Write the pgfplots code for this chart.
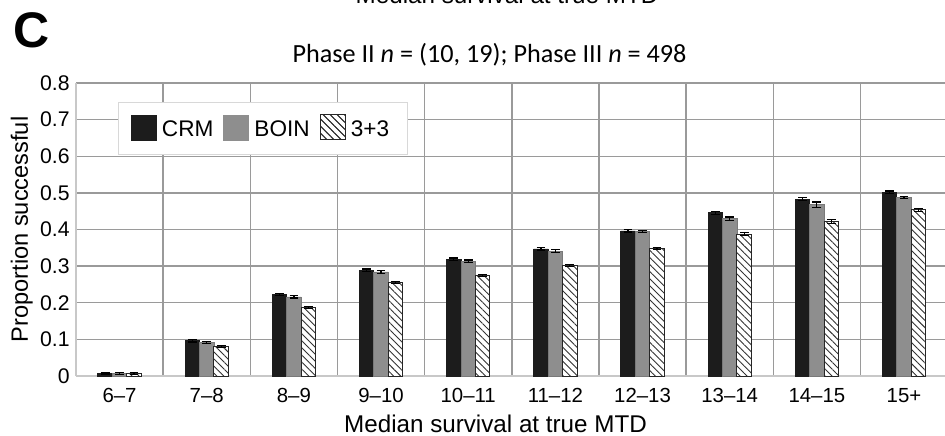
\documentclass[border=0pt]{standalone}
\usepackage{fontspec}
\setmainfont{Liberation Sans}
\newfontfamily\titlefont{Carlito}
\usepackage{pgfplots}
\usepackage{pgfplotstable}
\pgfplotsset{compat=1.18}
\usetikzlibrary{patterns.meta}

\definecolor{crm}{HTML}{1C1C1C}
\definecolor{boin}{HTML}{8E8E8E}
\definecolor{gridc}{HTML}{9A9A9A}
\definecolor{axisc}{HTML}{C8C8C8}
\definecolor{legc}{HTML}{D8D8D8}

\pgfplotstableread{
x crm crmerr boin boinerr tt tterr
0 0.006 0.002 0.007 0.002 0.007 0.002
1 0.096 0.003 0.092 0.003 0.080 0.003
2 0.222 0.003 0.216 0.003 0.187 0.003
3 0.289 0.003 0.284 0.004 0.255 0.003
4 0.319 0.003 0.313 0.004 0.275 0.003
5 0.347 0.003 0.341 0.004 0.301 0.003
6 0.396 0.003 0.394 0.003 0.348 0.003
7 0.446 0.004 0.429 0.005 0.387 0.004
8 0.483 0.004 0.468 0.007 0.422 0.006
9 0.502 0.003 0.488 0.003 0.454 0.004
}\data

\begin{document}
\begin{tikzpicture}[x=1pt,y=1pt]
\begin{axis}[
  at={(38pt,29.5pt)}, anchor=south west,
  scale only axis, width=434.5pt, height=146.5pt,
  xmin=-0.5, xmax=9.47, ymin=0, ymax=0.8,
  ybar=0pt, bar width=0.166,
  xtick={0,...,9},
  xticklabels={6--7,7--8,8--9,9--10,10--11,11--12,12--13,13--14,14--15,15+},
  minor xtick={0.5,1.5,2.5,3.5,4.5,5.5,6.5,7.5,8.5},
  xminorgrids=true, xmajorgrids=false, ymajorgrids=true,
  ytick={0,0.1,0.2,0.3,0.4,0.5,0.6,0.7,0.8},
  yticklabels={0,0.1,0.2,0.3,0.4,0.5,0.6,0.7,0.8},
  major grid style={gridc, line width=0.7pt},
  minor grid style={gridc, line width=0.7pt},
  axis x line*=bottom, axis y line*=left,
  axis line style={axisc, line width=1pt, -},
  major tick length=0pt, minor tick length=0pt,
  yticklabel style={font=\fontsize{10.6}{12}\selectfont, inner sep=0pt, xshift=-3pt},
  xticklabel style={font=\fontsize{10.2}{12}\selectfont, anchor=base, inner sep=0pt, yshift=-13pt},
  legend columns=3,
  legend style={at={(0.0483,0.935)}, anchor=north west, draw=legc, fill=white,
    font=\fontsize{11.3}{13}\selectfont, inner xsep=6.3pt, inner ysep=6pt,
    nodes={inner xsep=0pt, inner ysep=1.2pt},
    /tikz/every odd column/.append style={column sep=2.6pt},
    /tikz/every even column/.append style={column sep=5pt}},
  error bars/error bar style={black, line width=0.6pt},
  error bars/error mark options={rotate=90, mark size=2.2pt, black, line width=0.6pt},
]
\addplot[fill=crm, draw=crm,
  legend image code/.code={\draw[fill=crm,draw=crm] (0pt,-4.7pt) rectangle (12.5pt,7.8pt);},
  error bars/.cd, y dir=both, y explicit]
  table[x=x, y=crm, y error=crmerr]{\data};
\addlegendentry{CRM}
\addplot[fill=boin, draw=boin!85!black,
  legend image code/.code={\draw[fill=boin,draw=boin] (0pt,-4.7pt) rectangle (12.5pt,7.8pt);},
  error bars/.cd, y dir=both, y explicit]
  table[x=x, y=boin, y error=boinerr]{\data};
\addlegendentry{BOIN}
\addplot[fill=white, draw=black!85, line width=0.5pt,
  postaction={pattern={Lines[angle=-45,distance=2.5pt,line width=0.45pt]}, pattern color=black!80},
  legend image code/.code={\draw[fill=white,draw=black!85,line width=0.5pt,postaction={pattern={Lines[angle=-45,distance=2.5pt,line width=0.45pt]}, pattern color=black!80}] (0pt,-4.7pt) rectangle (12.5pt,7.8pt);},
  error bars/.cd, y dir=both, y explicit]
  table[x=x, y=tt, y error=tterr]{\data};
\addlegendentry{3+3\hspace*{3pt}}
\end{axis}
\node[anchor=base, inner sep=0pt, font=\fontsize{12.1}{14}\selectfont] at (247.75,1.5) {Median survival at true MTD};
\node[anchor=base, inner sep=0pt, rotate=90, font=\fontsize{11.8}{14}\selectfont] at (14,102.75) {Proportion successful};
\node[anchor=base, inner sep=0pt, font=\titlefont\fontsize{13.1}{15}\selectfont] at (244.75,186.5) {Phase II \textit{n} = (10, 19); Phase III \textit{n} = 498};
\node[anchor=base west, inner sep=0pt, font=\fontsize{25}{28}\selectfont\bfseries] at (6.3,193.5) {C};
\node[anchor=base, inner sep=0pt, font=\fontsize{12.1}{14}\selectfont] at (253.5,215.5) {Median survival at true MTD};
\pgfresetboundingbox
\path[use as bounding box] (0,0) rectangle (472.5,217.5);
\end{tikzpicture}
\end{document}
